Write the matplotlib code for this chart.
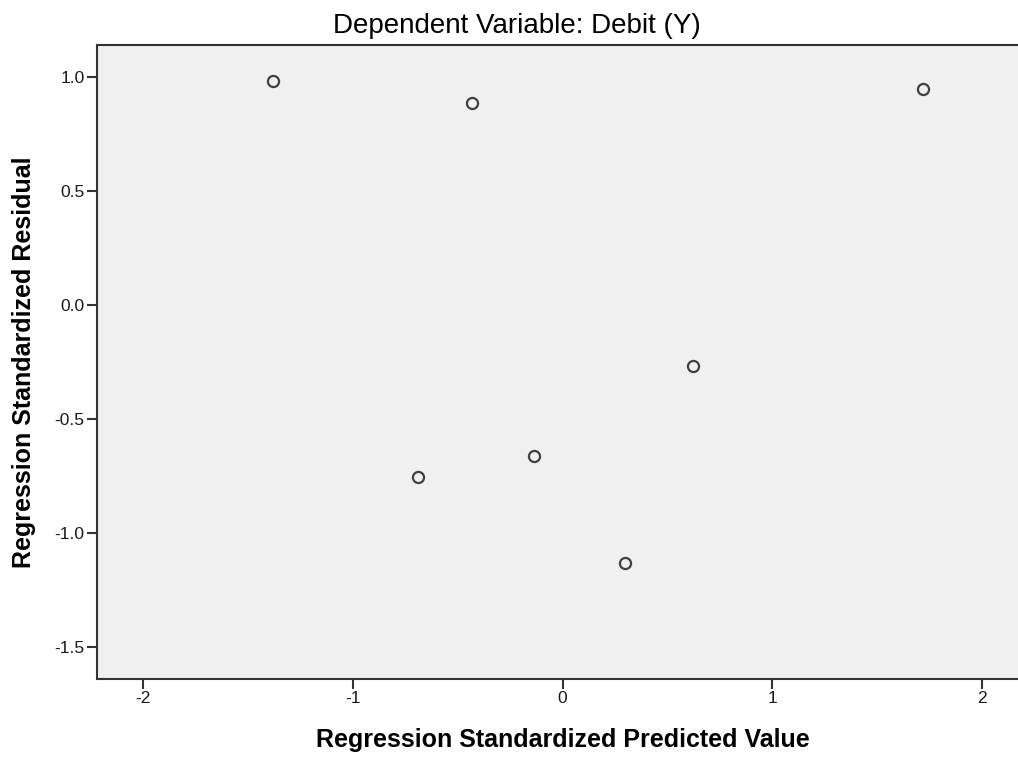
import matplotlib
matplotlib.use("Agg")
import matplotlib.pyplot as plt

plt.rcParams['font.family'] = ['Liberation Sans', 'DejaVu Sans']

# standardized predicted values / residuals
pred = [-1.38, -0.43, 1.72, 0.62, -0.69, -0.135, 0.30]
resid = [0.98, 0.886, 0.946, -0.268, -0.754, -0.663, -1.134]

xticks = [-2, -1, 0, 1, 2]
yticks = [1.0, 0.5, 0.0, -0.5, -1.0, -1.5]

fig = plt.figure(figsize=(10.18, 7.58), dpi=100)
# axes runs a little past the right edge, like the SPSS export
ax = fig.add_axes([97 / 1018, 1 - 678.6 / 758, 931 / 1018, 633.6 / 758])
ax.set_facecolor('#f0f0f0')

ax.plot(pred, resid, linestyle='none', marker='o', markersize=8,
        markerfacecolor='none', markeredgecolor='#404040', markeredgewidth=1.6)

ax.set_xlim(-2.22, 2.22)
ax.set_ylim(-1.64, 1.14)
ax.set_xticks(xticks)
ax.set_xticklabels([str(t) for t in xticks])
ax.set_yticks(yticks)
ax.set_yticklabels([f"{t:.1f}" for t in yticks])

for side in ['left', 'bottom', 'top', 'right']:
    ax.spines[side].set_color('#333333')
    ax.spines[side].set_linewidth(1.5)

ax.tick_params(axis='both', direction='out', length=7, width=1.5,
               color='#333333', labelsize=12.5, labelcolor='#1a1a1a', pad=2)

ax.set_xlabel('Regression Standardized Predicted Value', fontsize=18,
              fontweight='bold')
ax.xaxis.set_label_coords(0.5, -0.078)
ax.set_ylabel('Regression Standardized Residual', fontsize=18,
              fontweight='bold')
ax.yaxis.set_label_coords(-0.0655, 0.5)

fig.text(517 / 1018, 1 - 33 / 758, 'Dependent Variable: Debit (Y)',
         fontsize=20, ha='center', va='baseline')

fig.savefig('out.png', dpi=100, facecolor='white')
